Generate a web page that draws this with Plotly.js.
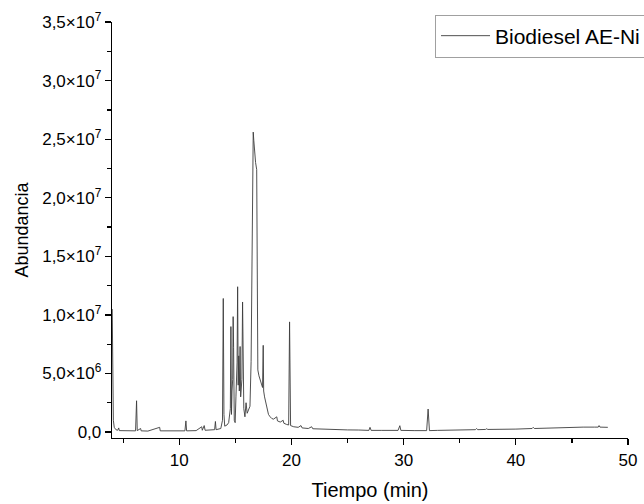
<!DOCTYPE html>
<html>
<head>
<meta charset="utf-8">
<script src="https://cdn.plot.ly/plotly-3.0.1.min.js"></script>
<style>html,body{margin:0;padding:0;background:#fff;}#chart{width:644px;height:504px;}</style>
</head>
<body>
<div id="chart"></div>
<script>
// Retention time (min)
const tiempo = [
 4.02,4.05,4.08,4.12,4.2,4.35,4.5,4.6,4.65,5.0,5.5,6.1,6.19,6.25,6.55,6.6,7.2,8.25,8.3,8.8,9.5,10.5,10.59,10.65,
 11.5,12.0,12.05,12.22,12.3,12.8,13.15,13.22,13.28,13.7,13.85,13.92,13.95,13.98,14.05,14.25,14.4,14.55,14.6,14.65,
 14.7,14.76,14.8,14.84,14.9,14.98,15.05,15.15,15.2,15.25,15.3,15.35,15.42,15.47,15.58,15.64,15.68,15.75,15.85,15.95,
 16.05,16.15,16.3,16.4,16.44,16.5,16.59,16.64,16.72,16.8,16.9,16.95,17.0,17.1,17.2,17.3,17.42,17.48,17.52,17.6,
 17.7,17.8,17.95,18.1,18.25,18.4,18.69,18.75,19.0,19.26,19.32,19.56,19.75,19.83,19.87,19.92,20.2,20.6,20.85,20.95,
 21.5,21.8,21.9,22.5,23.0,24,25,26,26.9,27.0,27.1,28,29.5,29.66,29.75,31,32.05,32.18,32.3,33,34,35,36.4,36.5,36.6,
 37.3,37.4,37.5,38.5,40,41.45,41.55,41.65,43,44,45,46,47,47.35,47.42,47.5,48.2
];
// Abundance
const abundancia = [
 1.05e7,8.1e6,3.0e6,1.0e6,4e5,2e5,1.5e5,3.5e5,1.2e5,1e5,1e5,1e5,2.67e6,1.2e5,3e5,1e5,8e4,4e5,1e5,1e5,8e4,1e5,9.5e5,1e5,
 1.2e5,4.5e5,1.5e5,5.5e5,1.5e5,1.5e5,2e5,9e5,2e5,3e5,1.0e6,1.14e7,3.3e6,1.5e6,5e5,6e5,8e5,2.0e6,9.0e6,1.5e6,
 3.5e6,4.5e6,9.85e6,7.2e6,1.0e6,8e5,3.0e6,5.9e6,1.24e7,4.0e6,6.5e6,3.5e6,7.3e6,3.0e6,4.5e6,1.11e7,4.7e6,2.0e6,1.3e6,2.5e6,
 1.6e6,1.9e6,2.2e6,6.0e6,1.04e7,1.8e7,2.56e7,2.49e7,2.33e7,2.3e7,2.24e7,1.2e7,5.3e6,4.8e6,4.5e6,4.2e6,3.8e6,7.4e6,3.5e6,3.0e6,
 2.5e6,2.0e6,1.5e6,1.3e6,1.15e6,1.1e6,1.3e6,9.5e5,8.5e5,1.0e6,7.5e5,6.5e5,6e5,9.4e6,5.1e6,5.5e5,4.5e5,4e5,5.5e5,3.5e5,
 3e5,4.5e5,2.8e5,2.5e5,2.2e5,2e5,1.8e5,1.7e5,1.4e5,4e5,1.4e5,1.4e5,1.4e5,5.4e5,1.4e5,1.2e5,1.2e5,1.96e6,1.2e5,1.4e5,1.6e5,1.8e5,2e5,3e5,2e5,
 2.2e5,2.8e5,2.2e5,2.2e5,2.5e5,3e5,4e5,3e5,3.5e5,4e5,4.2e5,4.2e5,4.2e5,4.2e5,5.5e5,4.2e5,4e5
];
const serieNombre = 'Biodiesel AE-Ni';
const yTickVals = [0,5e6,1e7,1.5e7,2e7,2.5e7,3e7,3.5e7];
const yTickText = ['0,0','5,0×10<sup>6</sup>','1,0×10<sup>7</sup>','1,5×10<sup>7</sup>','2,0×10<sup>7</sup>','2,5×10<sup>7</sup>','3,0×10<sup>7</sup>','3,5×10<sup>7</sup>'];

const trace = {
  x: tiempo, y: abundancia, type: 'scatter', mode: 'lines', name: serieNombre,
  line: {color: '#3c3c3c', width: 0.9}
};
const layout = {
  width: 644, height: 504,
  margin: {l: 112, r: 16, t: 22, b: 66, autoexpand: false},
  paper_bgcolor: '#fff', plot_bgcolor: '#fff',
  font: {family: 'Liberation Sans, Arial, sans-serif', color: '#000', size: 17},
  showlegend: true,
  legend: {x: 0.626, y: 1.018, xanchor: 'left', yanchor: 'top', bgcolor: '#fff',
    bordercolor: '#a0a0a0', borderwidth: 1, itemwidth: 49, font: {size: 21, color: '#000'}},
  xaxis: {
    range: [4.0, 50], showgrid: false, zeroline: false, showline: true, linecolor: '#000', linewidth: 1.3,
    ticks: 'outside', ticklen: 6, tickwidth: 1.3, tickcolor: '#000', dtick: 10, tick0: 0,
    tickfont: {size: 17},
    minor: {ticks: 'outside', ticklen: 4, tickwidth: 1.3, tickcolor: '#000', dtick: 5, tick0: 0, showgrid: false},
    title: {text: 'Tiempo (min)', font: {size: 20}, standoff: 14}
  },
  yaxis: {
    range: [-5.1e5, 3.5e7], showgrid: false, zeroline: false, showline: true, linecolor: '#000', linewidth: 1.3,
    ticks: 'outside', ticklen: 6, tickwidth: 1.3, tickcolor: '#000',
    tickmode: 'array', tickvals: yTickVals, ticktext: yTickText, tickfont: {size: 17},
    minor: {ticks: 'outside', ticklen: 4, tickwidth: 1.3, tickcolor: '#000', tickmode: 'linear', tick0: 0, dtick: 2.5e6, showgrid: false},
    title: {text: 'Abundancia', font: {size: 18}, standoff: 9}
  }
};
Plotly.newPlot('chart', [trace], layout, {displayModeBar: false, staticPlot: true});
</script>
</body>
</html>
